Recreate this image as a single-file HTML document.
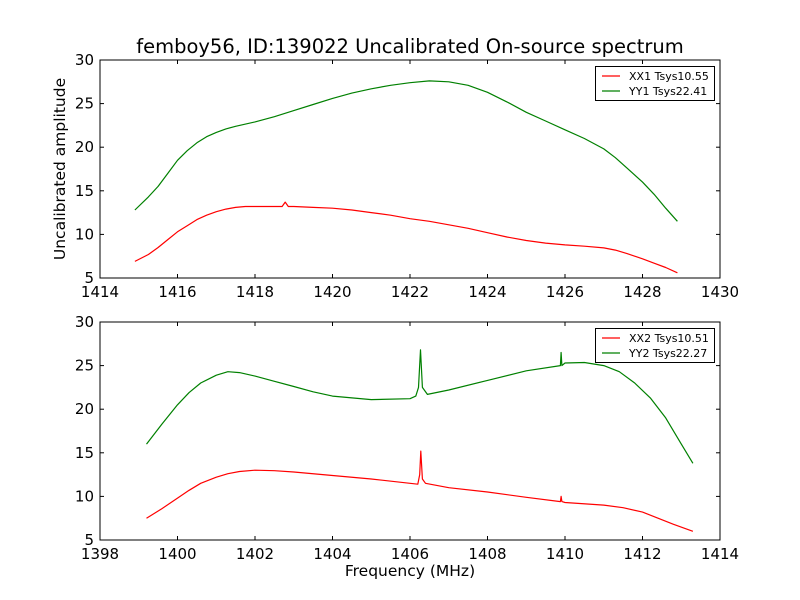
<!DOCTYPE html>
<html><head><meta charset="utf-8"><style>
body{margin:0;background:#fff;}
svg{display:block;font-family:"DejaVu Sans","Liberation Sans",sans-serif;}
</style></head><body>
<svg id="chart" width="800" height="600"></svg>
<script>
const topXTicks=[1414,1416,1418,1420,1422,1424,1426,1428,1430];
const botXTicks=[1398,1400,1402,1404,1406,1408,1410,1412,1414];
const yTicks=[5,10,15,20,25,30];
const xx1Freq=[1414.9,1415.25,1415.5,1415.75,1416,1416.25,1416.5,1416.75,1417,1417.25,1417.5,1417.75,1418,1418.7,1418.78,1418.86,1419,1419.5,1420,1420.5,1421,1421.5,1422,1422.5,1423,1423.5,1424,1424.5,1425,1425.5,1426,1426.5,1427,1427.3,1427.6,1428,1428.3,1428.6,1428.9];
const xx1Amp=[6.9,7.7,8.5,9.4,10.3,11.0,11.7,12.2,12.6,12.9,13.1,13.2,13.2,13.2,13.7,13.2,13.2,13.1,13.0,12.8,12.5,12.2,11.8,11.5,11.1,10.7,10.2,9.7,9.3,9.0,8.8,8.65,8.45,8.2,7.8,7.2,6.7,6.2,5.6];
const yy1Freq=[1414.9,1415.25,1415.5,1415.75,1416,1416.25,1416.5,1416.75,1417,1417.25,1417.5,1418,1418.5,1419,1419.5,1420,1420.5,1421,1421.5,1422,1422.5,1423,1423.5,1424,1424.5,1425,1425.5,1426,1426.5,1427,1427.3,1427.6,1428,1428.3,1428.6,1428.9];
const yy1Amp=[12.8,14.3,15.5,17.0,18.5,19.6,20.5,21.2,21.7,22.1,22.4,22.9,23.5,24.2,24.9,25.6,26.2,26.7,27.1,27.4,27.6,27.5,27.1,26.3,25.2,24.0,23.0,22.0,21.0,19.8,18.8,17.6,16.0,14.6,13.0,11.5];
const xx2Freq=[1399.2,1399.6,1400,1400.3,1400.6,1401,1401.3,1401.6,1402,1402.5,1403,1404,1405,1406,1406.2,1406.25,1406.28,1406.32,1406.4,1407,1408,1409,1409.88,1409.9,1409.92,1410,1411,1411.5,1412,1412.4,1412.8,1413.3];
const xx2Amp=[7.5,8.6,9.8,10.7,11.5,12.2,12.6,12.85,13.0,12.95,12.8,12.4,12.0,11.5,11.4,12.5,15.2,12.0,11.5,11.0,10.5,9.9,9.4,10.0,9.4,9.3,9.0,8.7,8.2,7.5,6.8,6.0];
const yy2Freq=[1399.2,1399.6,1400,1400.3,1400.6,1401,1401.3,1401.6,1402,1402.5,1403,1403.5,1404,1405,1406,1406.15,1406.22,1406.27,1406.32,1406.45,1407,1408,1409,1409.88,1409.9,1409.92,1410,1410.5,1411,1411.4,1411.8,1412.2,1412.6,1413,1413.3];
const yy2Amp=[16,18.3,20.5,21.9,23.0,23.9,24.3,24.2,23.8,23.2,22.6,22.0,21.5,21.1,21.2,21.5,22.5,26.8,22.5,21.7,22.2,23.3,24.4,25.0,26.5,25.0,25.3,25.35,25.0,24.3,23.0,21.3,19.0,16.0,13.8];

const NS="http://www.w3.org/2000/svg";
const svg=document.getElementById('chart');
function mk(tag,attrs,parent){const e=document.createElementNS(NS,tag);for(const k in attrs)e.setAttribute(k,attrs[k]);(parent||svg).appendChild(e);return e;}

function panel(id,y0,xMin,xMax,xTicks,series,legend){
  const L=100,R=720,T=y0,B=y0+218;
  const sx=v=>L+(v-xMin)/(xMax-xMin)*(R-L);
  const sy=v=>B-(v-5)/(30-5)*(B-T);
  const g=mk('g',{});
  
  
  series.forEach(s=>{
    const d=s.x.map((v,i)=>(i?'L':'M')+sx(v).toFixed(1)+','+sy(s.y[i]).toFixed(1)).join('');
    const p=mk('path',{d:d,fill:'none',stroke:s.c,'stroke-width':1.2,'stroke-linejoin':'round'},g);
    
    
  });
  const fr=mk('rect',{x:L,y:T,width:R-L,height:B-T,fill:'none',stroke:'#000','stroke-width':1},g);
  
  
  xTicks.forEach(t=>{
    const x=sx(t);
    mk('line',{x1:x,x2:x,y1:B,y2:B-4,stroke:'#000'},g);
    mk('line',{x1:x,x2:x,y1:T,y2:T+4,stroke:'#000'},g);
    const tx=mk('text',{x:x,y:B+19,'text-anchor':'middle','font-size':15},g);
    tx.textContent=t;
    
    
  });
  yTicks.forEach(t=>{
    const y=sy(t);
    mk('line',{x1:L,x2:L+4,y1:y,y2:y,stroke:'#000'},g);
    mk('line',{x1:R,x2:R-4,y1:y,y2:y,stroke:'#000'},g);
    const tx=mk('text',{x:L-6,y:y+5,'text-anchor':'end','font-size':15},g);
    tx.textContent=t;
    
    
  });
  const lg=mk('g',{},g);
  
  
  mk('rect',{x:595.5,y:T+6.5,width:119,height:34,fill:'#fff',stroke:'#000'},lg);
  legend.forEach((l,i)=>{
    const yy=T+16+i*15;
    mk('line',{x1:602,x2:620,y1:yy,y2:yy,stroke:l.c,'stroke-width':1.2},lg);
    const tx=mk('text',{x:629,y:yy+4,'font-size':11},lg);
    tx.textContent=l.t;
    
    
  });
}
panel('top',60,1414,1430,topXTicks,
  [{x:yy1Freq,y:yy1Amp,c:'#008000',name:'yy1'},{x:xx1Freq,y:xx1Amp,c:'#ff0000',name:'xx1'}],
  [{t:'XX1 Tsys10.55',c:'#ff0000'},{t:'YY1 Tsys22.41',c:'#008000'}]);
panel('bottom',322,1398,1414,botXTicks,
  [{x:yy2Freq,y:yy2Amp,c:'#008000',name:'yy2'},{x:xx2Freq,y:xx2Amp,c:'#ff0000',name:'xx2'}],
  [{t:'XX2 Tsys10.51',c:'#ff0000'},{t:'YY2 Tsys22.27',c:'#008000'}]);

const title=mk('text',{x:410,y:53,'text-anchor':'middle','font-size':19.5});
title.textContent='femboy56, ID:139022 Uncalibrated On-source spectrum';


const yl=mk('text',{x:0,y:0,'text-anchor':'middle','font-size':15.5,transform:'translate(65,169) rotate(-90)'});
yl.textContent='Uncalibrated amplitude';


const xl=mk('text',{x:410,y:576,'text-anchor':'middle','font-size':15.5});
xl.textContent='Frequency (MHz)';


</script>
</body></html>
